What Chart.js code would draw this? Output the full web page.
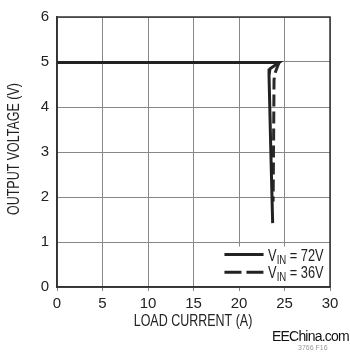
<!DOCTYPE html>
<html><head><meta charset="utf-8">
<script src="https://cdn.jsdelivr.net/npm/chart.js@4/dist/chart.umd.min.js"></script>
<style>
html,body{margin:0;padding:0;background:#fff;}
#wrap{position:relative;width:350px;height:354px;}
#wm{position:absolute;left:272px;top:328px;white-space:nowrap;font:14px "Liberation Sans",Arial,sans-serif;color:#111;letter-spacing:-0.8px;}
#fig{position:absolute;left:298px;top:344px;white-space:nowrap;font:7px "Liberation Sans",Arial,sans-serif;color:#999;}
</style></head><body>
<div id="wrap"><canvas id="c" width="350" height="354"></canvas>
<div id="wm">EEChina.com</div><div id="fig">3766 F16</div></div>
<script>
const xTicks = [0,5,10,15,20,25,30];
const yTicks = [0,1,2,3,4,5,6];
const vin72X = [0, 24.4, 23.4, 23.3, 23.5, 23.7];
const vin72Y = [4.99, 4.99, 4.85, 4.7, 3.0, 1.42];
const vin36X = [0, 24.4, 23.95, 23.85, 23.8, 23.75];
const vin36Y = [4.99, 4.99, 4.75, 4.6, 3.2, 1.9];
const legendLabels = [["V","IN"," = 72V"],["V","IN"," = 36V"]];
const xTitle = 'LOAD CURRENT (A)';
const yTitle = 'OUTPUT VOLTAGE (V)';
const FONT = '"Liberation Sans",Arial,sans-serif';
const toPts = (xs, ys) => xs.map((x,i)=>({x, y: ys[i]}));

function condText(ctx, text, x, y, size, align, sq) {
  sq = sq || 0.8;
  ctx.save();
  ctx.font = size + 'px ' + FONT;
  ctx.textAlign = align || 'left';
  ctx.translate(x, y);
  ctx.scale(sq, 1);
  ctx.fillText(text, 0, 0);
  const w = ctx.measureText(text).width * sq;
  ctx.restore();
  return w;
}

const frameLegend = {
  id:'frameLegend',
  afterDraw(chart){
    const ctx = chart.ctx, a = chart.chartArea;
    const xs = chart.scales.x, ys = chart.scales.y;
    ctx.save();
    const bx = xs.getPixelForValue(17.3), by = ys.getPixelForValue(0.9);
    ctx.fillStyle = '#fff';
    ctx.fillRect(bx, by, a.right - bx - 1, a.bottom - by - 1);
    ctx.strokeStyle = '#333'; ctx.lineWidth = 1.5;
    ctx.strokeRect(a.left, a.top, a.right - a.left, a.bottom - a.top);
    const lx0 = xs.getPixelForValue(18.4), lx1 = xs.getPixelForValue(22.7);
    const rows = [ys.getPixelForValue(0.72), ys.getPixelForValue(0.33)];
    ctx.strokeStyle = '#222'; ctx.lineWidth = 3;
    ctx.fillStyle = '#222'; ctx.textBaseline = 'alphabetic';
    rows.forEach((ry, i) => {
      ctx.beginPath();
      ctx.setLineDash(i === 0 ? [] : [17, 5]);
      ctx.moveTo(lx0, ry); ctx.lineTo(lx1, ry); ctx.stroke();
      ctx.setLineDash([]);
      const [b, sub, rest] = legendLabels[i];
      let tx = xs.getPixelForValue(23.2);
      tx += condText(ctx, b, tx, ry + 6, 16);
      tx += condText(ctx, sub, tx, ry + 9, 12);
      condText(ctx, rest, tx, ry + 6, 16);
    });
    ctx.textBaseline = 'middle';
    condText(ctx, xTitle, 193, 322, 16, 'center', 0.78);
    ctx.save();
    ctx.translate(15, 149);
    ctx.rotate(-Math.PI / 2);
    condText(ctx, yTitle, 0, 0, 16, 'center', 0.78);
    ctx.restore();
    ctx.restore();
  }
};

new Chart(document.getElementById('c'), {
  type: 'line',
  data: { datasets: [
    { label: 'VIN = 36V', data: toPts(vin36X, vin36Y), borderColor: '#2a2a2a', borderWidth: 3, borderDash: [12, 5], pointRadius: 0, tension: 0, fill: false, order: 2 },
    { label: 'VIN = 72V', data: toPts(vin72X, vin72Y), borderColor: '#222', borderWidth: 3, pointRadius: 0, tension: 0, fill: false, order: 1 }
  ]},
  options: {
    responsive: false, animation: false,
    layout: { padding: { top: 13, right: 20, bottom: 20, left: 0 } },
    plugins: { legend: { display: false }, tooltip: { enabled: false } },
    scales: {
      x: { type: 'linear', min: 0, max: 30,
        afterBuildTicks: s => { s.ticks = xTicks.map(v => ({value: v})); },
        afterFit: s => { s.height = 47; },
        ticks: { color: '#222', font: { family: FONT, size: 15 }, padding: 4 },
        grid: { color: '#888', lineWidth: 1, tickLength: 4 },
        border: { color: '#333', width: 1.5 },
        title: { display: false }
      },
      y: { type: 'linear', min: 0, max: 6,
        afterBuildTicks: s => { s.ticks = yTicks.map(v => ({value: v})); },
        afterFit: s => { s.width = 57; },
        ticks: { color: '#222', font: { family: FONT, size: 15 }, padding: 8 },
        grid: { color: '#888', lineWidth: 1, tickLength: 0 },
        border: { color: '#333', width: 1.5 },
        title: { display: false }
      }
    }
  },
  plugins: [frameLegend, { id:'bg', beforeDraw(c){ const x=c.ctx; x.save(); x.fillStyle='#fff'; x.fillRect(0,0,c.width,c.height); x.restore(); } }]
});
</script>
</body></html>
